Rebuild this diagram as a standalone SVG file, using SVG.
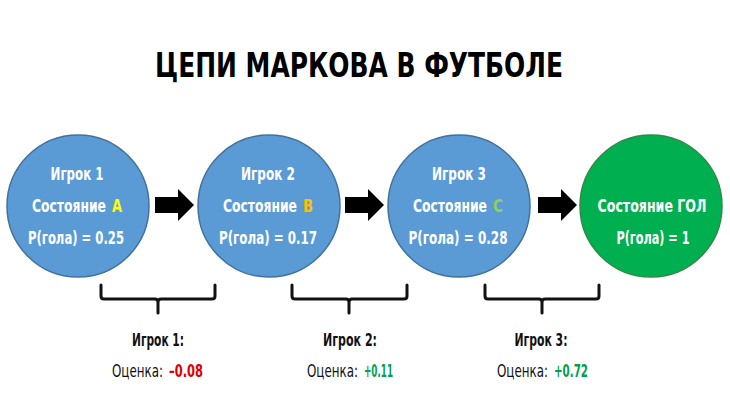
<svg xmlns="http://www.w3.org/2000/svg" width="730" height="411" viewBox="0 0 730 411">
<style>
text{font-family:"DejaVu Sans Condensed","DejaVu Sans","Liberation Sans",sans-serif;font-weight:bold;text-anchor:middle;font-stretch:condensed}
.s{text-anchor:start}
.title{font-size:33px;fill:#000}
.in{font-size:17px;fill:#fff}
.sm{font-size:14px;fill:#fff}
.lab{font-size:17px;fill:#111}
.lab2{font-size:13px;fill:#111;font-weight:normal}
.red{font-size:13px;fill:#E00000}
.grn{font-size:13px;fill:#00A050}
.blue{fill:#5B9BD5;stroke:#41719C;stroke-width:1.5}
.green{fill:#00B050;stroke:#2E8B47;stroke-width:1.5}
.arrow{fill:#000}
.br{fill:none;stroke:#111;stroke-width:3;stroke-linecap:round;stroke-linejoin:round}
</style>
<rect width="730" height="411" fill="#fff"/>
<text class="title" x="359" y="77" textLength="408" lengthAdjust="spacingAndGlyphs">ЦЕПИ МАРКОВА В ФУТБОЛЕ</text>
<g id="node1">
<circle class="blue" cx="78" cy="206" r="71"/>
<text class="in" x="77" y="180" textLength="53" lengthAdjust="spacingAndGlyphs">Игрок 1</text>
<text class="sm s" transform="translate(32,212) scale(1,1.2)" textLength="74" lengthAdjust="spacingAndGlyphs">Состояние</text>
<text class="sm s" transform="translate(112,212) scale(1,1.2)" textLength="10" lengthAdjust="spacingAndGlyphs" style="fill:#FFFF00">A</text>
<text class="in" x="76" y="244" textLength="96" lengthAdjust="spacingAndGlyphs">P(гола) = 0.25</text>
</g>
<g id="node2">
<circle class="blue" cx="269" cy="206" r="71"/>
<text class="in" x="268" y="180" textLength="54" lengthAdjust="spacingAndGlyphs">Игрок 2</text>
<text class="sm s" transform="translate(223,212) scale(1,1.2)" textLength="74" lengthAdjust="spacingAndGlyphs">Состояние</text>
<text class="sm s" transform="translate(303,212) scale(1,1.2)" textLength="10" lengthAdjust="spacingAndGlyphs" style="fill:#FFC000">B</text>
<text class="in" x="268" y="244" textLength="98" lengthAdjust="spacingAndGlyphs">P(гола) = 0.17</text>
</g>
<g id="node3">
<circle class="blue" cx="459" cy="206" r="71"/>
<text class="in" x="459" y="180" textLength="54" lengthAdjust="spacingAndGlyphs">Игрок 3</text>
<text class="sm s" transform="translate(413,212) scale(1,1.2)" textLength="74" lengthAdjust="spacingAndGlyphs">Состояние</text>
<text class="sm s" transform="translate(493,212) scale(1,1.2)" textLength="10" lengthAdjust="spacingAndGlyphs" style="fill:#92D050">C</text>
<text class="in" x="458" y="244" textLength="99" lengthAdjust="spacingAndGlyphs">P(гола) = 0.28</text>
</g>
<g id="node4">
<circle class="green" cx="651" cy="206" r="71"/>
<text class="in" x="652" y="212" textLength="109" lengthAdjust="spacingAndGlyphs">Состояние ГОЛ</text>
<text class="in" x="653" y="244" textLength="73" lengthAdjust="spacingAndGlyphs">P(гола) = 1</text>
</g>
<g id="connectors">
<polygon class="arrow" points="155,197 178,197 178,189 194,205 178,221 178,213 155,213"/>
<polygon class="arrow" points="345,197 368,197 368,189 384,205 368,221 368,213 345,213"/>
<polygon class="arrow" points="538,197 561,197 561,189 577,205 561,221 561,213 538,213"/>
</g>
<g id="brackets">
<path class="br" d="M101,285 L101,296 Q101,299 104,299 L155,299 Q158,299 158,302 L158,313 M158,302 Q158,299 161,299 L212,299 Q215,299 215,296 L215,285"/>
<path class="br" d="M292,285 L292,296 Q292,299 295,299 L346,299 Q349,299 349,302 L349,313 M349,302 Q349,299 352,299 L404,299 Q407,299 407,296 L407,285"/>
<path class="br" d="M485,285 L485,296 Q485,299 488,299 L539,299 Q542,299 542,302 L542,313 M542,302 Q542,299 545,299 L596,299 Q599,299 599,296 L599,285"/>
</g>
<g id="label1">
<text class="lab" x="158" y="346" textLength="52" lengthAdjust="spacingAndGlyphs">Игрок 1:</text>
<text class="lab2 s" transform="translate(112,377) scale(1,1.3)" textLength="51" lengthAdjust="spacingAndGlyphs">Оценка:</text>
<text class="red s" transform="translate(169,377) scale(1,1.3)" textLength="34" lengthAdjust="spacingAndGlyphs">–0.08</text>
</g>
<g id="label2">
<text class="lab" x="350" y="346" textLength="54" lengthAdjust="spacingAndGlyphs">Игрок 2:</text>
<text class="lab2 s" transform="translate(307,377) scale(1,1.3)" textLength="51" lengthAdjust="spacingAndGlyphs">Оценка:</text>
<text class="grn s" transform="translate(364,377) scale(1,1.3)" textLength="29" lengthAdjust="spacingAndGlyphs">+0.11</text>
</g>
<g id="label3">
<text class="lab" x="541" y="346" textLength="53" lengthAdjust="spacingAndGlyphs">Игрок 3:</text>
<text class="lab2 s" transform="translate(497,377) scale(1,1.3)" textLength="51" lengthAdjust="spacingAndGlyphs">Оценка:</text>
<text class="grn s" transform="translate(554,377) scale(1,1.3)" textLength="34" lengthAdjust="spacingAndGlyphs">+0.72</text>
</g>
</svg>
